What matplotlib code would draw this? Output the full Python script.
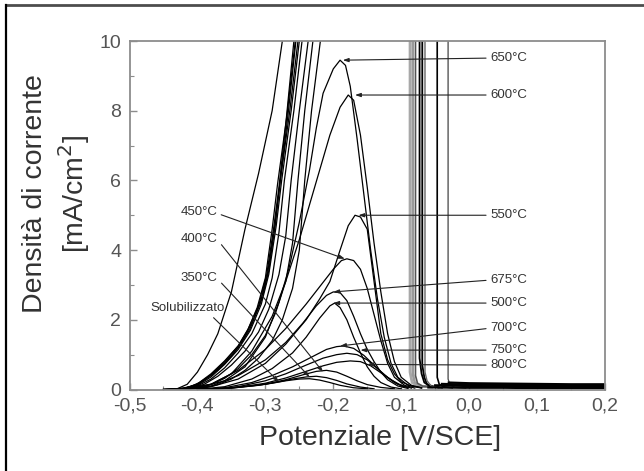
import matplotlib
matplotlib.use("Agg")
import matplotlib.pyplot as plt
from matplotlib.lines import Line2D

plt.rcParams["font.family"] = ["Liberation Sans", "DejaVu Sans"]

# axis ticks and labels
x_ticks = [-0.5, -0.4, -0.3, -0.2, -0.1, 0.0, 0.1, 0.2]
x_tick_labels = ["-0,5", "-0,4", "-0,3", "-0,2", "-0,1", "0,0", "0,1", "0,2"]
y_ticks = [0, 2, 4, 6, 8, 10]
y_tick_labels = ["0", "2", "4", "6", "8", "10"]

# forward (activation) scans: rising branch, leaves the plot above 10 mA/cm2
fwd_1_x = [-0.45, -0.43, -0.415, -0.40, -0.385, -0.37, -0.35, -0.33, -0.31, -0.29, -0.275, -0.268]
fwd_1_y = [0.0, 0.02, 0.15, 0.5, 1.0, 1.6, 2.8, 4.6, 6.2, 8.0, 10.0, 11.0]
fwd_2_x = [-0.45, -0.43, -0.41, -0.395, -0.37, -0.35, -0.335, -0.32, -0.305, -0.295, -0.285, -0.278, -0.266, -0.255, -0.25]
fwd_2_y = [0.0, 0.02, 0.08, 0.22, 0.55, 0.95, 1.35, 1.9, 2.6, 3.4, 4.8, 6.0, 8.0, 10.0, 11.0]
fwd_3_x = [-0.45, -0.42, -0.40, -0.38, -0.36, -0.34, -0.325, -0.31, -0.298, -0.288, -0.28, -0.27, -0.258, -0.253]
fwd_3_y = [0.0, 0.03, 0.15, 0.42, 0.8, 1.25, 1.75, 2.4, 3.3, 4.6, 5.8, 7.6, 10.0, 11.0]
fwd_4_x = [-0.45, -0.42, -0.40, -0.38, -0.36, -0.34, -0.322, -0.306, -0.295, -0.284, -0.276, -0.262, -0.25, -0.245]
fwd_4_y = [0.0, 0.02, 0.12, 0.36, 0.72, 1.15, 1.7, 2.45, 3.3, 4.7, 6.0, 8.0, 10.0, 11.0]
fwd_4b_x = [-0.45, -0.42, -0.40, -0.38, -0.36, -0.34, -0.323, -0.308, -0.297, -0.286, -0.278, -0.264, -0.252, -0.247]
fwd_4b_y = [0.0, 0.03, 0.14, 0.4, 0.76, 1.2, 1.72, 2.45, 3.3, 4.7, 6.0, 8.0, 10.0, 11.0]
fwd_4c_x = [-0.45, -0.42, -0.40, -0.38, -0.36, -0.34, -0.326, -0.312, -0.300, -0.29, -0.282, -0.268, -0.256, -0.251]
fwd_4c_y = [0.0, 0.03, 0.16, 0.45, 0.82, 1.25, 1.7, 2.35, 3.2, 4.6, 5.9, 7.9, 10.0, 11.0]
fwd_5_x = [-0.44, -0.42, -0.40, -0.38, -0.36, -0.34, -0.32, -0.30, -0.29, -0.28, -0.272, -0.258, -0.246, -0.24]
fwd_5_y = [0.0, 0.02, 0.1, 0.3, 0.62, 1.05, 1.6, 2.45, 3.2, 4.5, 6.0, 8.0, 10.0, 11.0]
fwd_6_x = [-0.44, -0.41, -0.39, -0.37, -0.35, -0.33, -0.31, -0.295, -0.28, -0.27, -0.262, -0.25, -0.237, -0.232]
fwd_6_y = [0.0, 0.04, 0.15, 0.38, 0.7, 1.1, 1.65, 2.3, 3.3, 4.4, 6.0, 8.0, 10.0, 11.0]
fwd_7_x = [-0.43, -0.40, -0.38, -0.36, -0.34, -0.32, -0.30, -0.285, -0.27, -0.26, -0.252, -0.242, -0.23, -0.225]
fwd_7_y = [0.0, 0.04, 0.14, 0.32, 0.6, 1.0, 1.55, 2.2, 3.1, 4.2, 6.0, 8.0, 10.0, 11.0]
fwd_8_x = [-0.42, -0.39, -0.37, -0.35, -0.33, -0.31, -0.29, -0.275, -0.26, -0.25, -0.242, -0.232, -0.219, -0.214]
fwd_8_y = [0.0, 0.04, 0.14, 0.3, 0.55, 0.9, 1.4, 2.0, 2.9, 4.0, 6.0, 8.0, 10.0, 11.0]

# forward scans: falling branch back to passivity
drop_1_x = [-0.087, -0.087, -0.084, -0.075, -0.06]
drop_1_y = [11.0, 0.5, 0.2, 0.1, 0.08]
drop_2_x = [-0.083, -0.083, -0.080, -0.072, -0.055]
drop_2_y = [11.0, 0.45, 0.2, 0.1, 0.07]
drop_3_x = [-0.079, -0.079, -0.076, -0.068, -0.05]
drop_3_y = [11.0, 0.4, 0.18, 0.09, 0.07]
drop_4_x = [-0.073, -0.073, -0.070, -0.066, -0.058, -0.045]
drop_4_y = [11.0, 0.9, 0.45, 0.2, 0.1, 0.06]
drop_5_x = [-0.069, -0.069, -0.066, -0.062, -0.052, -0.04]
drop_5_y = [11.0, 0.7, 0.35, 0.15, 0.08, 0.05]
drop_6_x = [-0.065, -0.065, -0.062, -0.056, -0.045]
drop_6_y = [11.0, 0.5, 0.25, 0.1, 0.05]
drop_7_x = [-0.047, -0.047, -0.044, -0.038, -0.025]
drop_7_y = [11.0, 0.35, 0.15, 0.08, 0.05]
drop_8_x = [-0.031, -0.031, -0.028, -0.02, -0.005]
drop_8_y = [11.0, 0.3, 0.12, 0.06, 0.04]

# passive region
pas_1_x = [-0.06, 0.0, 0.05, 0.1, 0.15, 0.2]
pas_1_y = [0.06, 0.05, 0.05, 0.04, 0.04, 0.04]
pas_2_x = [-0.05, 0.0, 0.05, 0.1, 0.15, 0.2]
pas_2_y = [0.12, 0.1, 0.09, 0.09, 0.08, 0.08]
pas_3_x = [-0.04, 0.0, 0.05, 0.1, 0.15, 0.2]
pas_3_y = [0.16, 0.14, 0.13, 0.12, 0.12, 0.11]
pas_4_x = [-0.03, 0.0, 0.05, 0.1, 0.15, 0.2]
pas_4_y = [0.2, 0.18, 0.17, 0.16, 0.15, 0.15]

# reverse (reactivation) scans, one per heat treatment
rev_650_x = [-0.43, -0.40, -0.36, -0.33, -0.30, -0.28, -0.265, -0.25, -0.235, -0.225, -0.215, -0.2, -0.19,
             -0.182, -0.175, -0.165, -0.155, -0.145, -0.135, -0.125, -0.115, -0.105, -0.09, -0.07]
rev_650_y = [0.0, 0.05, 0.25, 0.65, 1.5, 2.5, 3.5, 4.8, 6.3, 7.5, 8.5, 9.2, 9.45,
             9.3, 8.7, 7.2, 5.6, 4.0, 2.6, 1.5, 0.75, 0.35, 0.12, 0.05]
rev_600_x = [-0.42, -0.38, -0.35, -0.32, -0.29, -0.27, -0.25, -0.235, -0.22, -0.205, -0.19, -0.178,
             -0.17, -0.16, -0.15, -0.14, -0.13, -0.12, -0.11, -0.1, -0.085, -0.07]
rev_600_y = [0.02, 0.15, 0.45, 1.1, 2.1, 3.1, 4.3, 5.3, 6.3, 7.3, 8.1, 8.45,
             8.3, 7.3, 5.8, 4.2, 2.8, 1.6, 0.8, 0.35, 0.12, 0.05]
rev_550_x = [-0.42, -0.38, -0.34, -0.30, -0.27, -0.24, -0.22, -0.205, -0.19, -0.178, -0.168, -0.16,
             -0.15, -0.14, -0.13, -0.12, -0.11, -0.1, -0.085, -0.07]
rev_550_y = [0.0, 0.08, 0.3, 0.75, 1.3, 2.0, 2.6, 3.1, 4.0, 4.7, 5.0, 4.95,
             4.6, 3.1, 1.6, 0.85, 0.45, 0.22, 0.1, 0.04]
rev_450_x = [-0.42, -0.38, -0.34, -0.30, -0.27, -0.24, -0.22, -0.2, -0.188, -0.18, -0.17, -0.16,
             -0.15, -0.14, -0.13, -0.12, -0.11, -0.095, -0.08]
rev_450_y = [0.0, 0.15, 0.55, 1.15, 1.75, 2.45, 2.95, 3.45, 3.7, 3.75, 3.7, 3.45,
             2.9, 2.15, 1.4, 0.75, 0.35, 0.12, 0.04]
rev_675_x = [-0.42, -0.38, -0.34, -0.30, -0.27, -0.245, -0.225, -0.21, -0.2, -0.19, -0.18, -0.17,
             -0.16, -0.15, -0.14, -0.13, -0.12, -0.105, -0.09]
rev_675_y = [0.0, 0.1, 0.4, 0.85, 1.35, 1.9, 2.4, 2.7, 2.8, 2.78, 2.55, 2.1,
             1.6, 1.15, 0.8, 0.5, 0.28, 0.1, 0.03]
rev_500_x = [-0.40, -0.36, -0.32, -0.29, -0.26, -0.24, -0.22, -0.205, -0.198, -0.19, -0.18, -0.17,
             -0.16, -0.15, -0.14, -0.13, -0.115, -0.1]
rev_500_y = [0.0, 0.08, 0.3, 0.6, 1.05, 1.5, 2.05, 2.4, 2.48, 2.35, 2.0, 1.5,
             1.05, 0.65, 0.38, 0.2, 0.07, 0.02]
rev_700_x = [-0.40, -0.36, -0.32, -0.29, -0.26, -0.23, -0.21, -0.195, -0.185, -0.17, -0.155, -0.14,
             -0.125, -0.11, -0.095]
rev_700_y = [0.0, 0.05, 0.2, 0.4, 0.65, 0.95, 1.15, 1.23, 1.25, 1.18, 0.98, 0.7,
             0.42, 0.2, 0.07]
rev_750_x = [-0.38, -0.34, -0.30, -0.27, -0.24, -0.215, -0.195, -0.18, -0.165, -0.15, -0.135, -0.12,
             -0.105, -0.09]
rev_750_y = [0.0, 0.08, 0.25, 0.45, 0.7, 0.9, 1.0, 1.04, 1.0, 0.85, 0.6, 0.35, 0.15, 0.05]
rev_800_x = [-0.38, -0.34, -0.30, -0.27, -0.24, -0.215, -0.195, -0.175, -0.16, -0.145, -0.13, -0.115,
             -0.1, -0.085]
rev_800_y = [0.0, 0.06, 0.18, 0.33, 0.52, 0.68, 0.78, 0.82, 0.8, 0.68, 0.48, 0.28, 0.12, 0.04]
rev_400_x = [-0.40, -0.35, -0.30, -0.27, -0.245, -0.225, -0.21, -0.195, -0.18, -0.165, -0.15, -0.13, -0.11]
rev_400_y = [0.0, 0.05, 0.15, 0.28, 0.42, 0.52, 0.55, 0.5, 0.38, 0.25, 0.14, 0.06, 0.02]
rev_350_x = [-0.40, -0.35, -0.31, -0.28, -0.26, -0.24, -0.225, -0.21, -0.195, -0.18, -0.16, -0.14]
rev_350_y = [0.0, 0.04, 0.12, 0.22, 0.3, 0.36, 0.38, 0.34, 0.26, 0.16, 0.07, 0.02]
rev_sol_x = [-0.40, -0.36, -0.32, -0.29, -0.27, -0.25, -0.235, -0.22, -0.205, -0.19, -0.17, -0.15]
rev_sol_y = [0.0, 0.03, 0.1, 0.18, 0.25, 0.3, 0.31, 0.27, 0.2, 0.12, 0.05, 0.02]

# curve labels: (text, point on curve, label position)
right_labels = ["650°C", "600°C", "550°C", "675°C", "500°C", "700°C", "750°C", "800°C"]
right_points = [(-0.186, 9.45), (-0.168, 8.45), (-0.163, 5.0), (-0.2, 2.8),
                (-0.2, 2.48), (-0.19, 1.25), (-0.16, 1.13), (-0.15, 0.72)]
right_label_y = [9.51, 8.45, 5.0, 3.14, 2.48, 1.76, 1.13, 0.70]
right_label_x = 0.031

left_labels = ["450°C", "400°C", "350°C", "Solubilizzato"]
left_points = [(-0.183, 3.75), (-0.215, 0.5), (-0.235, 0.36), (-0.28, 0.22)]
left_label_pos = [(-0.371, 5.09), (-0.37, 4.32), (-0.37, 3.2), (-0.36, 2.34)]

fig = plt.figure(figsize=(6.44, 4.71), dpi=100)
ax = fig.add_axes([129.5 / 644, 1 - 389.5 / 471, 475.5 / 644, 348.5 / 471])

forward = [(fwd_1_x, fwd_1_y), (fwd_2_x, fwd_2_y), (fwd_3_x, fwd_3_y), (fwd_4_x, fwd_4_y),
           (fwd_4b_x, fwd_4b_y), (fwd_4c_x, fwd_4c_y),
           (fwd_5_x, fwd_5_y), (fwd_6_x, fwd_6_y), (fwd_7_x, fwd_7_y), (fwd_8_x, fwd_8_y)]
for xs, ys in forward:
    ax.plot(xs, ys, color="black", lw=0.9)

drops = [(drop_1_x, drop_1_y, "#a8a8a8", 2.0), (drop_2_x, drop_2_y, "#9a9a9a", 1.8),
         (drop_3_x, drop_3_y, "#555555", 1.2), (drop_4_x, drop_4_y, "black", 1.3),
         (drop_5_x, drop_5_y, "black", 1.3), (drop_6_x, drop_6_y, "#666666", 1.0),
         (drop_7_x, drop_7_y, "black", 1.2), (drop_8_x, drop_8_y, "#444444", 0.9)]
for xs, ys, c, w in drops:
    ax.plot(xs, ys, color=c, lw=w)

for xs, ys in [(pas_1_x, pas_1_y), (pas_2_x, pas_2_y), (pas_3_x, pas_3_y), (pas_4_x, pas_4_y)]:
    ax.plot(xs, ys, color="black", lw=1.6)

reverse = [(rev_650_x, rev_650_y), (rev_600_x, rev_600_y), (rev_550_x, rev_550_y),
           (rev_450_x, rev_450_y), (rev_675_x, rev_675_y), (rev_500_x, rev_500_y),
           (rev_700_x, rev_700_y), (rev_750_x, rev_750_y), (rev_800_x, rev_800_y),
           (rev_400_x, rev_400_y), (rev_350_x, rev_350_y), (rev_sol_x, rev_sol_y)]
for xs, ys in reverse:
    ax.plot(xs, ys, color="black", lw=0.9)

arrow = dict(arrowstyle="-|>,head_length=0.35,head_width=0.12", lw=0.8, color="#222222",
             shrinkA=1, shrinkB=0)
for text, pt, ly in zip(right_labels, right_points, right_label_y):
    ax.annotate(text, xy=pt, xytext=(right_label_x, ly), ha="left", va="center",
                fontsize=9.5, color="#333333", arrowprops=dict(arrow, relpos=(0, 0.5)))
for text, pt, pos in zip(left_labels, left_points, left_label_pos):
    rel = (0.8, 0.0) if text == "Solubilizzato" else (1.0, 0.4)
    ax.annotate(text, xy=pt, xytext=pos, ha="right", va="center",
                fontsize=9.5, color="#333333", arrowprops=dict(arrow, relpos=rel))

ax.set_xlim(-0.5, 0.2)
ax.set_ylim(0, 10)
ax.set_xticks(x_ticks)
ax.set_xticklabels(x_tick_labels)
ax.set_yticks(y_ticks)
ax.set_yticklabels(y_tick_labels)
ax.set_xticks([-0.45, -0.35, -0.25, -0.15, -0.05, 0.05, 0.15], minor=True)
ax.set_yticks([1, 3, 5, 7, 9], minor=True)
ax.tick_params(which="both", direction="in", color="#8c8c8c", labelcolor="#555555",
               labelsize=14, pad=6)
ax.tick_params(which="major", length=5, width=1.0)
ax.tick_params(which="minor", length=3, width=0.8)
for side in ax.spines.values():
    side.set_color("#8c8c8c")
    side.set_linewidth(1.3)

fig.text(380 / 644, 1 - 438 / 471, "Potenziale [V/SCE]", ha="center", va="center",
         fontsize=20.5, color="#333333")
fig.text(35 / 644, 1 - 194 / 471, "Densità di corrente", ha="center", va="center",
         rotation=90, fontsize=20.5, color="#333333")
fig.text(74 / 644, 1 - 194 / 471, "[mA/cm$^2$]", ha="center", va="center",
         rotation=90, fontsize=20.5, color="#333333")

# page frame
fig.add_artist(Line2D([6 / 644, 1.0], [1 - 5 / 471, 1 - 5 / 471], color="#4d4d4d", lw=2.0))
fig.add_artist(Line2D([6 / 644, 6 / 644], [0.0, 1 - 5 / 471], color="black", lw=1.6))

fig.savefig("out.png", dpi=100)
